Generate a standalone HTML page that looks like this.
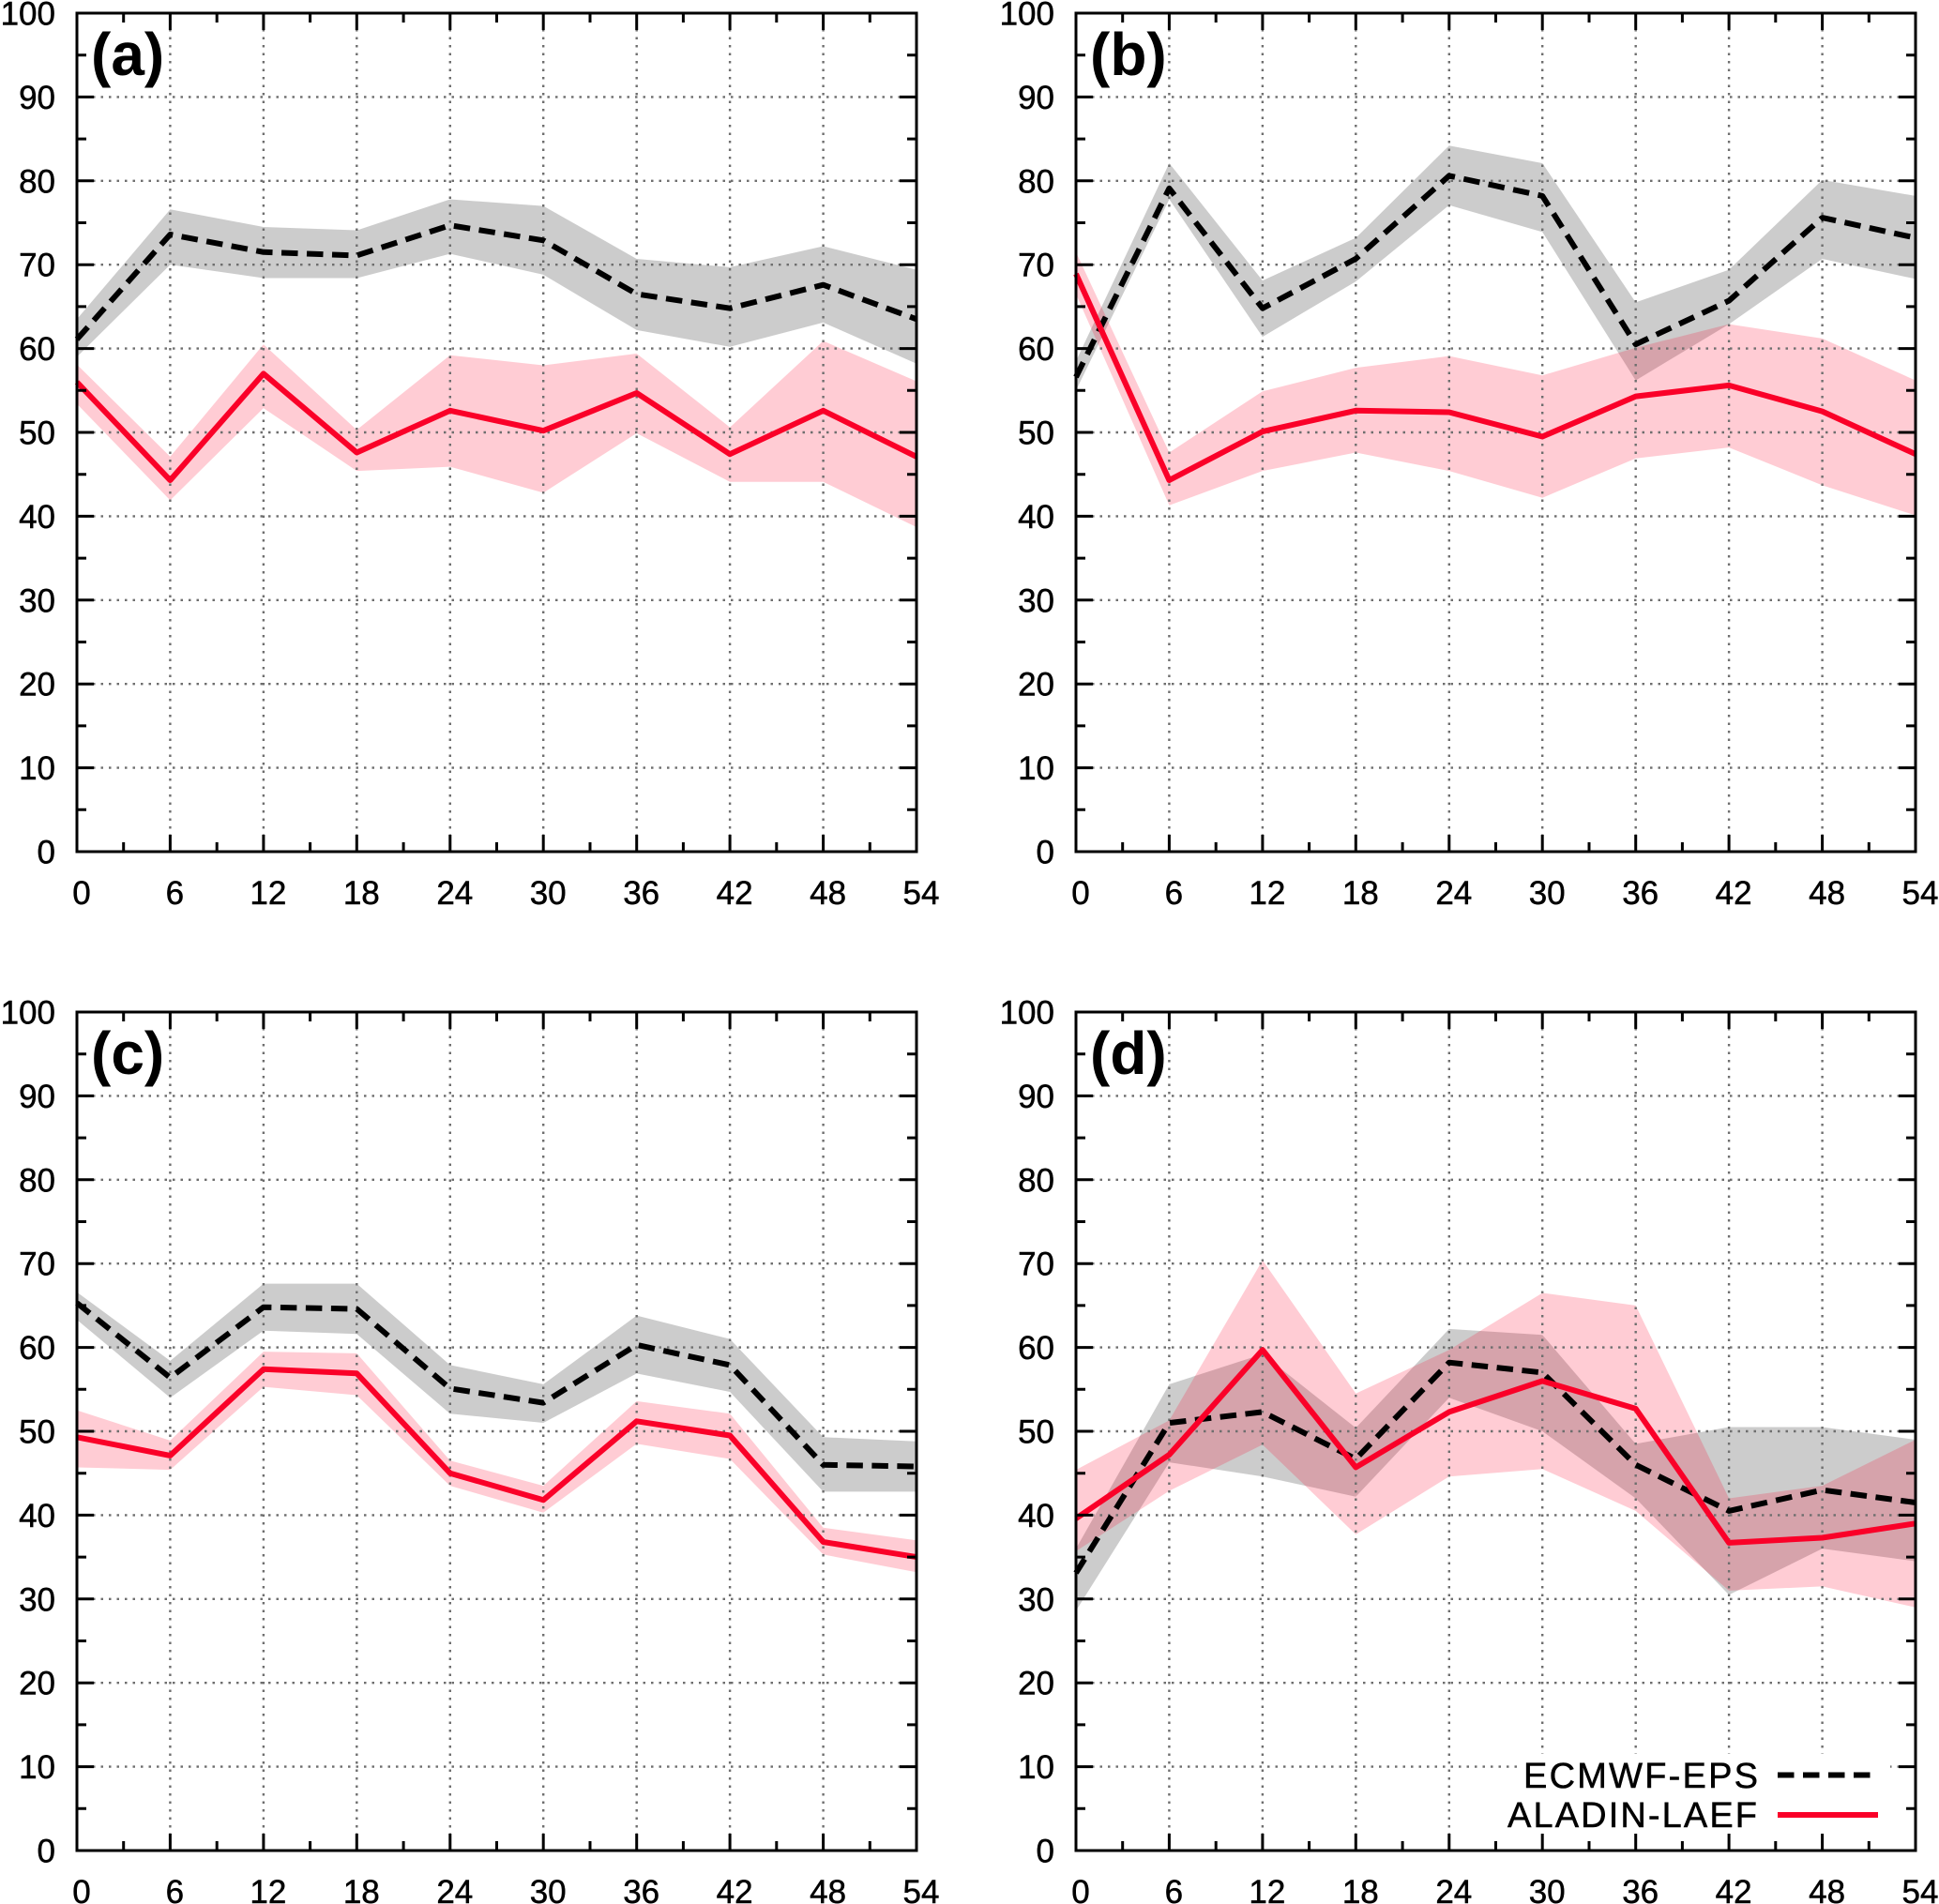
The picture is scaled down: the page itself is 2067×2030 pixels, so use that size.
<!DOCTYPE html>
<html>
<head>
<meta charset="utf-8">
<style>
html,body{margin:0;padding:0;background:#fff;}
svg{display:block;}
text{font-family:"Liberation Sans",Arial,sans-serif;fill:#000;}
.yl{font-size:35px;text-anchor:end;stroke:#000;stroke-width:0.5;}
.xl{font-size:35px;text-anchor:middle;stroke:#000;stroke-width:0.5;}
.pl{font-size:64px;font-weight:bold;}
.lg{font-size:38px;stroke:#000;stroke-width:0.5;}
</style>
</head>
<body>
<svg width="2067" height="2030" viewBox="0 0 2067 2030" xmlns="http://www.w3.org/2000/svg">
<rect x="0" y="0" width="2067" height="2030" fill="#fff"/>
<defs>
<path id="grid" fill="none" stroke="#6e6e6e" stroke-width="2.4" stroke-dasharray="2.5,6" d="M0 89.4H895M0 178.8H895M0 268.2H895M0 357.6H895M0 447H895M0 536.4H895M0 625.8H895M0 715.2H895M0 804.6H895M99.4 0V894M198.9 0V894M298.3 0V894M397.8 0V894M497.2 0V894M596.7 0V894M696.1 0V894M795.6 0V894"/>
<g id="axes" fill="none" stroke="#000" stroke-width="3">
<rect x="0" y="0" width="895" height="894"/>
<path d="M0 89.4h18M0 178.8h18M0 268.2h18M0 357.6h18M0 447h18M0 536.4h18M0 625.8h18M0 715.2h18M0 804.6h18
M877 89.4h18M877 178.8h18M877 268.2h18M877 357.6h18M877 447h18M877 536.4h18M877 625.8h18M877 715.2h18M877 804.6h18
M0 44.7h10M0 134.1h10M0 223.5h10M0 312.9h10M0 402.3h10M0 491.7h10M0 581.1h10M0 670.5h10M0 759.9h10M0 849.3h10
M885 44.7h10M885 134.1h10M885 223.5h10M885 312.9h10M885 402.3h10M885 491.7h10M885 581.1h10M885 670.5h10M885 759.9h10M885 849.3h10
M99.4 0v18M198.9 0v18M298.3 0v18M397.8 0v18M497.2 0v18M596.7 0v18M696.1 0v18M795.6 0v18
M99.4 876v18M198.9 876v18M298.3 876v18M397.8 876v18M497.2 876v18M596.7 876v18M696.1 876v18M795.6 876v18
M49.7 0v10M149.2 0v10M248.6 0v10M348.1 0v10M447.5 0v10M547 0v10M646.4 0v10M745.8 0v10M845.3 0v10
M49.7 884v10M149.2 884v10M248.6 884v10M348.1 884v10M447.5 884v10M547 884v10M646.4 884v10M745.8 884v10M845.3 884v10"/>
</g>
</defs>

<!-- Panel (a) -->
<g transform="translate(82,14)">
<g transform="translate(0,894) scale(16.574,-8.94)">
<polygon fill="#000" fill-opacity="0.2" points="0,63.5 6,76.6 12,74.5 18,74.1 24,77.8 30,77 36,70.7 42,69.7 48,72.2 54,69.4 54,58.2 48,63.1 42,60.2 36,62.2 30,68.8 24,71.3 18,68.4 12,68.4 6,70 0,59"/>
<polygon fill="#ff0028" fill-opacity="0.2" points="0,58.1 6,47.1 12,60.5 18,50.3 24,59.2 30,58 36,59.4 42,50.6 48,60.9 54,56.1 54,38.7 48,44.1 42,44.1 36,49.9 30,42.8 24,45.9 18,45.4 12,52.9 6,41.9 0,53.4"/>
</g>
<use href="#grid"/>
<path fill="none" stroke="#000" stroke-width="6" stroke-dasharray="17.5,9.5" stroke-linejoin="round" d="M0 347.8L99.4 236L198.9 254.8L298.3 258.4L397.8 226.2L497.2 242.3L596.7 299.5L696.1 314.7L795.6 289.7L895 326.3"/>
<path fill="none" stroke="#fa0028" stroke-width="6" stroke-linejoin="round" d="M0 393.4L99.4 498L198.9 384.4L298.3 468.5L397.8 423.8L497.2 445.2L596.7 405L696.1 470.2L795.6 423.8L895 472.9"/>
<use href="#axes"/>
<text class="pl" x="15" y="66">(a)</text>
<text class="yl" x="-23" y="12.5">100</text><text class="yl" x="-23" y="101.9">90</text><text class="yl" x="-23" y="191.3">80</text><text class="yl" x="-23" y="280.7">70</text><text class="yl" x="-23" y="370.1">60</text><text class="yl" x="-23" y="459.5">50</text><text class="yl" x="-23" y="548.9">40</text><text class="yl" x="-23" y="638.3">30</text><text class="yl" x="-23" y="727.7">20</text><text class="yl" x="-23" y="817.1">10</text><text class="yl" x="-23" y="906.5">0</text>
<text class="xl" x="5" y="950">0</text><text class="xl" x="104.4" y="950">6</text><text class="xl" x="203.9" y="950">12</text><text class="xl" x="303.3" y="950">18</text><text class="xl" x="402.8" y="950">24</text><text class="xl" x="502.2" y="950">30</text><text class="xl" x="601.7" y="950">36</text><text class="xl" x="701.1" y="950">42</text><text class="xl" x="800.6" y="950">48</text><text class="xl" x="900" y="950">54</text>
</g>

<!-- Panel (b) -->
<g transform="translate(1147,14)">
<g transform="translate(0,894) scale(16.574,-8.94)">
<polygon fill="#000" fill-opacity="0.2" points="0,58.5 6,82.1 12,68.1 18,73.2 24,84.2 30,82.1 36,65.5 42,69.4 48,80.1 54,78.2 54,68.3 48,70.7 42,62.9 36,56.2 30,73.9 24,77.1 18,68 12,61.4 6,77.8 0,55"/>
<polygon fill="#ff0028" fill-opacity="0.2" points="0,71.5 6,47.6 12,54.9 18,57.7 24,59.1 30,56.8 36,60.1 42,62.9 48,61.2 54,56.2 54,40.1 48,43.7 42,48.2 36,46.9 30,42.2 24,45.4 18,47.6 12,45.4 6,41.3 0,66.5"/>
</g>
<use href="#grid"/>
<path fill="none" stroke="#000" stroke-width="6" stroke-dasharray="17.5,9.5" stroke-linejoin="round" d="M0 388L99.4 186.8L198.9 314.7L298.3 261.9L397.8 173.4L497.2 194.9L596.7 353.1L696.1 306.6L795.6 218.1L895 239.6"/>
<path fill="none" stroke="#fa0028" stroke-width="6" stroke-linejoin="round" d="M0 278L99.4 498L198.9 446.1L298.3 423.8L397.8 425.5L497.2 451.5L596.7 408.6L696.1 396.9L795.6 424.6L895 470.2"/>
<use href="#axes"/>
<text class="pl" x="15" y="66">(b)</text>
<text class="yl" x="-23" y="12.5">100</text><text class="yl" x="-23" y="101.9">90</text><text class="yl" x="-23" y="191.3">80</text><text class="yl" x="-23" y="280.7">70</text><text class="yl" x="-23" y="370.1">60</text><text class="yl" x="-23" y="459.5">50</text><text class="yl" x="-23" y="548.9">40</text><text class="yl" x="-23" y="638.3">30</text><text class="yl" x="-23" y="727.7">20</text><text class="yl" x="-23" y="817.1">10</text><text class="yl" x="-23" y="906.5">0</text>
<text class="xl" x="5" y="950">0</text><text class="xl" x="104.4" y="950">6</text><text class="xl" x="203.9" y="950">12</text><text class="xl" x="303.3" y="950">18</text><text class="xl" x="402.8" y="950">24</text><text class="xl" x="502.2" y="950">30</text><text class="xl" x="601.7" y="950">36</text><text class="xl" x="701.1" y="950">42</text><text class="xl" x="800.6" y="950">48</text><text class="xl" x="900" y="950">54</text>
</g>

<!-- Panel (c) -->
<g transform="translate(82,1079)">
<g transform="translate(0,894) scale(16.574,-8.94)">
<polygon fill="#000" fill-opacity="0.2" points="0,66.6 6,58.4 12,67.6 18,67.6 24,57.9 30,55.6 36,63.8 42,61 48,49.3 54,48.8 54,42.8 48,42.8 42,54.7 36,56.9 30,51 24,52.1 18,61.6 12,62 6,54 0,63.3"/>
<polygon fill="#ff0028" fill-opacity="0.2" points="0,52.5 6,48.9 12,59.5 18,59.3 24,46.5 30,43.5 36,53.6 42,52.1 48,38.5 54,37 54,33.2 48,35.3 42,46.7 36,48.5 30,40.3 24,43.5 18,54.3 12,55.3 6,45.4 0,45.7"/>
</g>
<use href="#grid"/>
<path fill="none" stroke="#000" stroke-width="6" stroke-dasharray="17.5,9.5" stroke-linejoin="round" d="M0 310.2L99.4 389.8L198.9 314.7L298.3 316.5L397.8 401.4L497.2 416.6L596.7 354.9L696.1 376.4L795.6 482.8L895 484.5"/>
<path fill="none" stroke="#fa0028" stroke-width="6" stroke-linejoin="round" d="M0 453.3L99.4 472.9L198.9 380.8L298.3 385.3L397.8 491.7L497.2 520.3L596.7 436.3L696.1 451.5L795.6 565L895 581.1"/>
<use href="#axes"/>
<text class="pl" x="15" y="66">(c)</text>
<text class="yl" x="-23" y="12.5">100</text><text class="yl" x="-23" y="101.9">90</text><text class="yl" x="-23" y="191.3">80</text><text class="yl" x="-23" y="280.7">70</text><text class="yl" x="-23" y="370.1">60</text><text class="yl" x="-23" y="459.5">50</text><text class="yl" x="-23" y="548.9">40</text><text class="yl" x="-23" y="638.3">30</text><text class="yl" x="-23" y="727.7">20</text><text class="yl" x="-23" y="817.1">10</text><text class="yl" x="-23" y="906.5">0</text>
<text class="xl" x="5" y="950">0</text><text class="xl" x="104.4" y="950">6</text><text class="xl" x="203.9" y="950">12</text><text class="xl" x="303.3" y="950">18</text><text class="xl" x="402.8" y="950">24</text><text class="xl" x="502.2" y="950">30</text><text class="xl" x="601.7" y="950">36</text><text class="xl" x="701.1" y="950">42</text><text class="xl" x="800.6" y="950">48</text><text class="xl" x="900" y="950">54</text>
</g>

<!-- Panel (d) -->
<g transform="translate(1147,1079)">
<g transform="translate(0,894) scale(16.574,-8.94)">
<polygon fill="#000" fill-opacity="0.2" points="0,36 6,55.6 12,59.2 18,50.4 24,62.2 30,61.5 36,48.5 42,50.5 48,50.5 54,49 54,34.5 48,36 42,30.5 36,42 30,50 24,54 18,42.2 12,44.6 6,46.3 0,28.6"/>
<polygon fill="#ff0028" fill-opacity="0.2" points="0,45.4 6,51.3 12,70.4 18,54.5 24,59.7 30,66.5 36,65 42,42 48,43.5 54,49 54,29 48,31.5 42,31 36,40.5 30,45.5 24,44.6 18,37.7 12,48.4 6,42.9 0,35.7"/>
</g>
<use href="#grid"/>
<rect x="470" y="791" width="398" height="90" fill="#fff"/>
<path fill="none" stroke="#000" stroke-width="6" stroke-dasharray="17.5,9.5" stroke-linejoin="round" d="M0 598.1L99.4 438.1L198.9 426.4L298.3 476.5L397.8 373.7L497.2 384.4L596.7 482.8L696.1 531.9L795.6 509.6L895 523"/>
<path fill="none" stroke="#fa0028" stroke-width="6" stroke-linejoin="round" d="M0 540L99.4 472L198.9 360.3L298.3 485.4L397.8 426.4L497.2 393.4L596.7 422.9L696.1 565.9L795.6 560.5L895 545.3"/>
<use href="#axes"/>
<text class="pl" x="15" y="66">(d)</text>
<text class="yl" x="-23" y="12.5">100</text><text class="yl" x="-23" y="101.9">90</text><text class="yl" x="-23" y="191.3">80</text><text class="yl" x="-23" y="280.7">70</text><text class="yl" x="-23" y="370.1">60</text><text class="yl" x="-23" y="459.5">50</text><text class="yl" x="-23" y="548.9">40</text><text class="yl" x="-23" y="638.3">30</text><text class="yl" x="-23" y="727.7">20</text><text class="yl" x="-23" y="817.1">10</text><text class="yl" x="-23" y="906.5">0</text>
<text class="xl" x="5" y="950">0</text><text class="xl" x="104.4" y="950">6</text><text class="xl" x="203.9" y="950">12</text><text class="xl" x="303.3" y="950">18</text><text class="xl" x="402.8" y="950">24</text><text class="xl" x="502.2" y="950">30</text><text class="xl" x="601.7" y="950">36</text><text class="xl" x="701.1" y="950">42</text><text class="xl" x="800.6" y="950">48</text><text class="xl" x="900" y="950">54</text>
<!-- legend -->
<text class="lg" x="477" y="827" textLength="250">ECMWF-EPS</text>
<text class="lg" x="460" y="869" textLength="266">ALADIN-LAEF</text>
<path fill="none" stroke="#000" stroke-width="6" stroke-dasharray="17.5,9.5" d="M748 813.5H847"/>
<path fill="none" stroke="#fa0028" stroke-width="6" d="M748 856H855"/>
</g>
</svg>
</body>
</html>
